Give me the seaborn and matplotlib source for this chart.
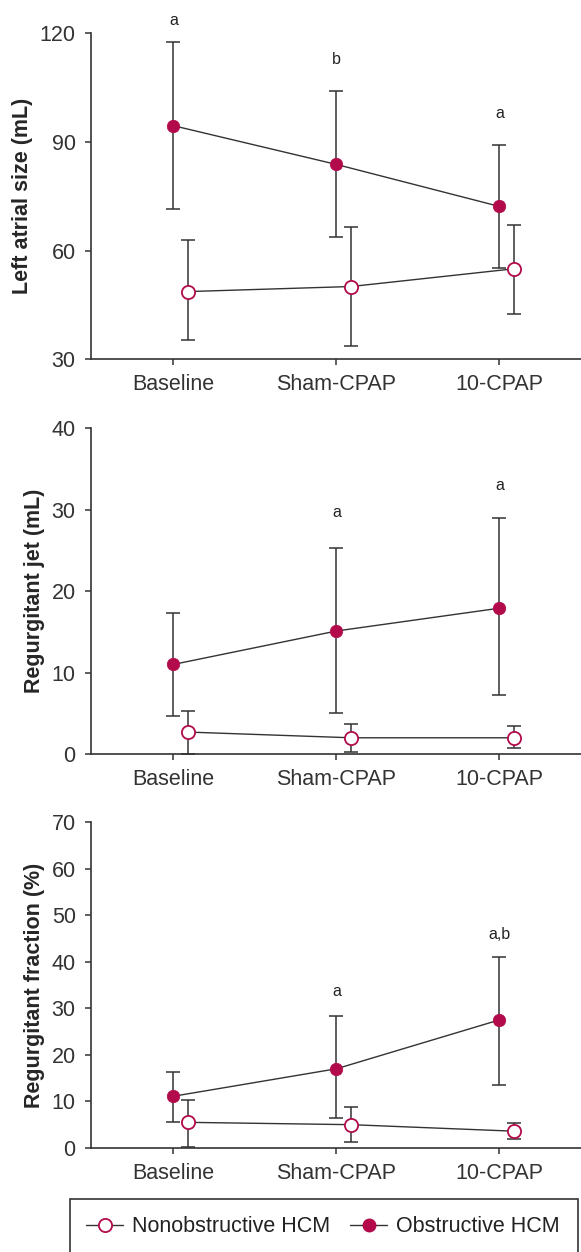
import matplotlib
matplotlib.use('Agg')
import matplotlib.pyplot as plt
import pandas as pd
import numpy as np
import seaborn as sb
from matplotlib.lines import Line2D
from matplotlib.patches import Rectangle

# ---- data ----
conditions = ['Baseline', 'Sham-CPAP', '10-CPAP']

# Left atrial size (mL)
la_obs = [94.5, 83.8, 72.2]
la_obs_lo = [71.6, 63.7, 55.1]
la_obs_hi = [117.5, 104.1, 89.2]
la_non = [48.7, 50.1, 55.0]
la_non_lo = [35.3, 33.6, 42.5]
la_non_hi = [62.9, 66.4, 67.1]
la_letters = ['a', 'b', 'a']
la_letter_y = [123.5, 112.8, 97.8]

# Regurgitant jet (mL)
rj_obs = [11.0, 15.1, 17.9]
rj_obs_lo = [4.7, 5.0, 7.3]
rj_obs_hi = [17.3, 25.3, 29.0]
rj_non = [2.7, 2.0, 2.0]
rj_non_lo = [0.0, 0.2, 0.7]
rj_non_hi = [5.3, 3.7, 3.4]
rj_letters = ['', 'a', 'a']
rj_letter_y = [0, 29.6, 33.0]

# Regurgitant fraction (%)
rf_obs = [11.1, 17.0, 27.5]
rf_obs_lo = [5.5, 6.4, 13.5]
rf_obs_hi = [16.3, 28.3, 41.1]
rf_non = [5.5, 5.0, 3.6]
rf_non_lo = [0.3, 1.2, 1.9]
rf_non_hi = [10.4, 8.9, 5.4]
rf_letters = ['', 'a', 'a,b']
rf_letter_y = [0, 33.6, 45.8]

group_names = ['Nonobstructive HCM', 'Obstructive HCM']

crimson = '#B20A4B'
dark = '#333333'

sb.set_style('ticks')
plt.rcParams['font.family'] = ['Liberation Sans', 'DejaVu Sans']
plt.rcParams['axes.edgecolor'] = dark
plt.rcParams['xtick.color'] = dark
plt.rcParams['ytick.color'] = dark
plt.rcParams['text.color'] = '#222222'

fig = plt.figure(figsize=(5.81, 12.52), dpi=100)

panels = [
    (0.9734, 'Left atrial size (mL)', (30, 120), [30, 60, 90, 120],
     la_obs, la_obs_lo, la_obs_hi, la_non, la_non_lo, la_non_hi, la_letters, la_letter_y),
    (0.6581, 'Regurgitant jet (mL)', (0, 40), [0, 10, 20, 30, 40],
     rj_obs, rj_obs_lo, rj_obs_hi, rj_non, rj_non_lo, rj_non_hi, rj_letters, rj_letter_y),
    (0.3435, 'Regurgitant fraction (%)', (0, 70), [0, 10, 20, 30, 40, 50, 60, 70],
     rf_obs, rf_obs_lo, rf_obs_hi, rf_non, rf_non_lo, rf_non_hi, rf_letters, rf_letter_y),
]

pos = np.arange(len(conditions))
shift = 0.09

for top, ylab, ylim, yticks, obs, obs_lo, obs_hi, non, non_lo, non_hi, letters, letter_y in panels:
    ax = fig.add_axes([91 / 581, top - 0.2604, 490 / 581, 0.2604])
    df = pd.DataFrame({
        'x': np.concatenate([pos + shift, pos]),
        'y': non + obs,
        'group': [group_names[0]] * 3 + [group_names[1]] * 3,
    })
    # error bars first so markers sit on top
    ax.errorbar(pos + shift, non, yerr=[np.array(non) - np.array(non_lo), np.array(non_hi) - np.array(non)],
                fmt='none', ecolor=dark, elinewidth=1.1, capsize=5, capthick=1.1, zorder=2, clip_on=False)
    ax.errorbar(pos, obs, yerr=[np.array(obs) - np.array(obs_lo), np.array(obs_hi) - np.array(obs)],
                fmt='none', ecolor=dark, elinewidth=1.1, capsize=5, capthick=1.1, zorder=2, clip_on=False)
    sb.lineplot(data=df[df.group == group_names[0]], x='x', y='y', ax=ax, color=dark, lw=1.0,
                marker='o', markersize=9.5, markerfacecolor='white', markeredgecolor=crimson,
                markeredgewidth=1.3, zorder=3, clip_on=False)
    sb.lineplot(data=df[df.group == group_names[1]], x='x', y='y', ax=ax, color=dark, lw=1.0,
                marker='o', markersize=9, markerfacecolor=crimson, markeredgecolor=crimson,
                markeredgewidth=0.5, zorder=3, clip_on=False)
    for i, t in enumerate(letters):
        if t:
            ax.text(pos[i], letter_y[i], t, ha='center', va='center', fontsize=11.5, clip_on=False)
    ax.set_xlim(-0.505, 2.5)
    ax.set_ylim(*ylim)
    ax.set_yticks(yticks)
    ax.set_xticks(pos)
    ax.set_xticklabels(conditions, fontsize=15.5)
    ax.tick_params(axis='y', labelsize=15.5, length=4.5, width=1.1, pad=6.5)
    ax.tick_params(axis='x', length=4.5, width=1.1, pad=6)
    ax.set_xlabel('')
    ax.set_ylabel(ylab, fontsize=15.5, fontweight='bold', labelpad=5)
    for s in ['top', 'right']:
        ax.spines[s].set_visible(False)
    for s in ['left', 'bottom']:
        ax.spines[s].set_linewidth(1.2)
    if ax.get_legend():
        ax.get_legend().remove()

# legend box (bottom edge runs off the figure)
fig.patches.append(Rectangle((70 / 581, -0.02), 508 / 581, (1 - 1199 / 1252) + 0.02,
                             transform=fig.transFigure, fill=False, edgecolor=dark, lw=1.2))

handles = [
    Line2D([], [], color=dark, lw=1.0, marker='o', markersize=9.5, markerfacecolor='white',
           markeredgecolor=crimson, markeredgewidth=1.3),
    Line2D([], [], color=dark, lw=1.0, marker='o', markersize=9, markerfacecolor=crimson,
           markeredgecolor=crimson),
]
leg = fig.legend(handles, group_names, loc='center left',
                 bbox_to_anchor=(86 / 581, 1 - 1227 / 1252),
                 ncol=2, fontsize=15.5, frameon=False, borderpad=0, borderaxespad=0,
                 handlelength=1.72, handletextpad=0.42, columnspacing=0.93)

fig.savefig('out.png', dpi=100)
